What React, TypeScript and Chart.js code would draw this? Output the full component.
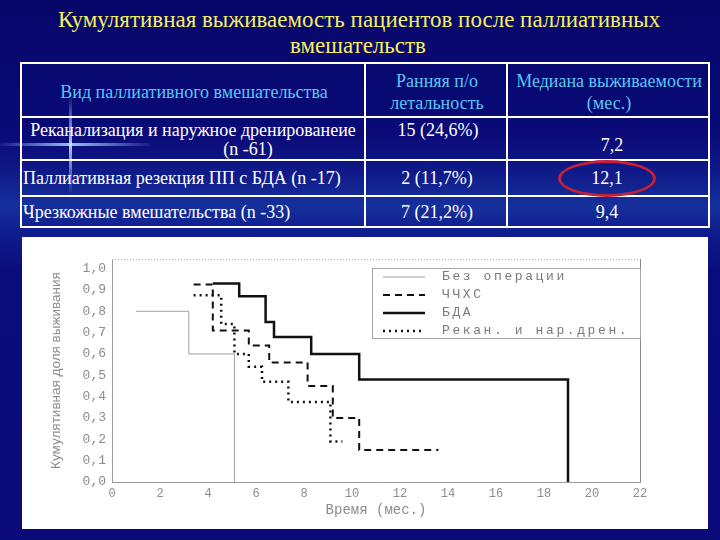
import React, { useEffect, useRef } from "react";
import { Chart, registerables } from "chart.js";

Chart.register(...registerables);

// ---------------- data ----------------
const titleLines = [
  "Кумулятивная выживаемость пациентов после паллиативных",
  "вмешательств",
];
const headerCol1 = "Вид паллиативного вмешательства";
const headerCol2 = ["Ранняя п/о", "летальность"];
const headerCol3 = ["Медиана выживаемости", "(мес.)"];
const interventionNames = [
  ["Реканализация и наружное дренированеие", "(n -61)"],
  ["Паллиативная резекция ПП с БДА (n -17)"],
  ["Чрезкожные вмешательства (n -33)"],
];
const earlyMortality = ["15 (24,6%)", "2 (11,7%)", "7 (21,2%)"];
const medianSurvival = ["7,2", "12,1", "9,4"];

const seriesLabels = ["Без операции", "ЧЧХС", "БДА", "Рекан. и нар.дрен."];
const noOpTimes = [1.0, 3.2, 5.1];
const noOpSurvival = [0.8, 0.6, 0.0];
const pthcTimes = [3.4, 4.2, 5.7, 6.55, 8.15, 9.2, 10.3, 13.6];
const pthcSurvival = [0.925, 0.71, 0.64, 0.56, 0.45, 0.3, 0.15, 0.15];
const bdaTimes = [4.2, 5.3, 6.4, 6.75, 8.3, 10.3, 19.0];
const bdaSurvival = [0.93, 0.87, 0.75, 0.68, 0.6, 0.48, 0.0];
const drainTimes = [3.4, 4.55, 5.1, 5.7, 6.25, 7.35, 9.1, 9.6];
const drainSurvival = [0.875, 0.74, 0.6, 0.54, 0.47, 0.375, 0.19, 0.19];

const xAxisTitle = "Время (мес.)";
const yAxisTitle = "Кумулятивная доля выживания";

// ---------------- helpers ----------------
const toPoints = (xs: number[], ys: number[]) => xs.map((x, i) => ({ x, y: ys[i] }));

const MONO = "'Liberation Mono', 'DejaVu Sans Mono', monospace";
const SERIF = "'Liberation Serif', 'DejaVu Serif', serif";

const framePlugin = {
  id: "frame",
  afterDatasetsDraw(chart: any) {
    const { ctx, chartArea } = chart;
    const { left, right, top, bottom } = chartArea;
    ctx.save();
    ctx.lineWidth = 1;
    ctx.strokeStyle = "#b0b0b0";
    ctx.setLineDash([1, 2]);
    ctx.beginPath();
    ctx.moveTo(left, top + 0.5);
    ctx.lineTo(right, top + 0.5);
    ctx.stroke();
    ctx.setLineDash([]);
    ctx.strokeStyle = "#8a8a8a";
    ctx.beginPath();
    ctx.moveTo(right + 0.5, top);
    ctx.lineTo(right + 0.5, bottom);
    ctx.stroke();
    ctx.restore();
  },
};

const insideLegendPlugin = {
  id: "insideLegend",
  afterDraw(chart: any) {
    const { ctx, chartArea } = chart;
    const w = 268;
    const h = 70;
    const x0 = chartArea.right - w;
    const y0 = chartArea.top + 9;
    ctx.save();
    ctx.fillStyle = "#ffffff";
    ctx.fillRect(x0, y0, w, h);
    ctx.strokeStyle = "#a8a8a8";
    ctx.lineWidth = 1;
    ctx.setLineDash([]);
    ctx.strokeRect(x0 + 0.5, y0 + 0.5, w, h);
    const rowH = 18;
    chart.data.datasets.forEach((ds: any, i: number) => {
      const cy = y0 + 9 + rowH * i;
      ctx.strokeStyle = ds.borderColor;
      ctx.lineWidth = ds.borderWidth;
      ctx.setLineDash(ds.borderDash || []);
      ctx.beginPath();
      ctx.moveTo(x0 + 11, cy);
      ctx.lineTo(x0 + 53, cy);
      ctx.stroke();
      ctx.setLineDash([]);
      ctx.fillStyle = "#7a7a7a";
      ctx.font = `13px ${MONO}`;
      try {
        (ctx as any).letterSpacing = "2.6px";
      } catch (e) {}
      ctx.textBaseline = "middle";
      ctx.textAlign = "left";
      ctx.fillText(ds.label, x0 + 70, cy);
      try {
        (ctx as any).letterSpacing = "0px";
      } catch (e) {}
    });
    ctx.restore();
  },
};

function SurvivalChart() {
  const ref = useRef<HTMLCanvasElement | null>(null);
  useEffect(() => {
    if (!ref.current) return;
    const axisColor = "#8c8c8c";
    const chart = new Chart(ref.current, {
      type: "line",
      data: {
        datasets: [
          {
            label: seriesLabels[0],
            data: toPoints(noOpTimes, noOpSurvival),
            borderColor: "#a0a0a0",
            borderWidth: 1,
            borderDash: [],
            stepped: "before",
          },
          {
            label: seriesLabels[1],
            data: toPoints(pthcTimes, pthcSurvival),
            borderColor: "#111111",
            borderWidth: 2,
            borderDash: [7, 5],
            stepped: "before",
          },
          {
            label: seriesLabels[2],
            data: toPoints(bdaTimes, bdaSurvival),
            borderColor: "#111111",
            borderWidth: 2.5,
            borderDash: [],
            stepped: "before",
          },
          {
            label: seriesLabels[3],
            data: toPoints(drainTimes, drainSurvival),
            borderColor: "#111111",
            borderWidth: 2.5,
            borderDash: [2, 4],
            stepped: "before",
          },
        ],
      },
      options: {
        animation: false,
        responsive: false,
        maintainAspectRatio: false,
        layout: { padding: { top: 22, right: 68, left: 0, bottom: 0 } },
        elements: { point: { radius: 0, hoverRadius: 0 }, line: { tension: 0, fill: false } },
        plugins: { legend: { display: false }, tooltip: { enabled: false } },
        scales: {
          x: {
            type: "linear",
            min: 0,
            max: 22,
            ticks: {
              stepSize: 2,
              color: axisColor,
              padding: 5,
              font: { family: MONO, size: 12 },
              callback: (v: any) => String(v),
            },
            grid: { display: false, drawTicks: false },
            border: { display: true, color: "#9a9a9a", width: 1 },
            title: {
              display: true,
              text: xAxisTitle,
              color: axisColor,
              font: { family: MONO, size: 14 },
              padding: { top: 0, bottom: 10 },
            },
            afterFit: (s: any) => {
              s.height = 47;
            },
          },
          y: {
            type: "linear",
            min: 0,
            max: 1.045,
            ticks: {
              stepSize: 0.1,
              includeBounds: false,
              color: axisColor,
              padding: 6,
              font: { family: MONO, size: 13 },
              callback: (v: any) => Number(v).toFixed(1).replace(".", ","),
            },
            grid: { display: false, drawTicks: false },
            border: { display: true, color: "#9a9a9a", width: 1, dash: [1, 2] },
            title: {
              display: true,
              text: yAxisTitle,
              color: axisColor,
              font: { family: "'Liberation Sans', sans-serif", size: 13.5 },
              padding: { top: 26, bottom: 0 },
            },
            afterFit: (s: any) => {
              s.width = 90;
            },
          },
        },
      },
      plugins: [framePlugin, insideLegendPlugin],
    } as any);
    return () => chart.destroy();
  }, []);
  return <canvas ref={ref} width={686} height={292} style={{ width: 686, height: 292, display: "block" }} />;
}

const abs = (left: number, top: number, extra: React.CSSProperties = {}): React.CSSProperties => ({
  position: "absolute",
  left,
  top,
  ...extra,
});

function Line({ text, cx, cy, color, size, align = "center" }: { text: string; cx: number; cy: number; color: string; size: number; align?: "center" | "left" }) {
  const style: React.CSSProperties =
    align === "center"
      ? abs(cx - 300, cy - size * 0.62, { width: 600, textAlign: "center" })
      : abs(cx, cy - size * 0.62, { whiteSpace: "nowrap" });
  return (
    <div style={{ ...style, color, fontSize: size, fontFamily: SERIF, lineHeight: `${Math.round(size * 1.2)}px`, whiteSpace: "nowrap" }}>
      {text}
    </div>
  );
}

export default function App() {
  const border = "#ffffff";
  const hLine = (y: number) => <div key={"h" + y} style={abs(21, y - 1, { width: 689, height: 2, background: border })} />;
  const vLine = (x: number) => <div key={"v" + x} style={abs(x - 1, 63, { width: 2, height: 165, background: border })} />;
  const headColor = "#5cc4f4";
  const bodyColor = "#ffffff";
  return (
    <div
      style={{
        position: "absolute",
        left: 0,
        top: 0,
        width: 720,
        height: 540,
        overflow: "hidden",
        background:
          "linear-gradient(to bottom, #07076a 0%, #0a0a78 25%, #0f1a88 32%, #16309c 38%, #0f1d8c 43%, #0a0c7c 50%, #0a0a78 100%)",
      }}
    >
      {/* lens flare */}
      <div style={abs(0, 143, { width: 150, height: 3, background: "linear-gradient(to right, rgba(90,140,255,0.1), rgba(170,210,255,0.9) 47%, rgba(90,140,255,0.1))" })} />
      <div style={abs(69, 95, { width: 3, height: 100, background: "linear-gradient(to bottom, rgba(90,140,255,0), rgba(200,225,255,0.9) 50%, rgba(90,140,255,0))" })} />

      {/* title */}
      <Line text={titleLines[0]} cx={358} cy={20} color="#f4f060" size={23} />
      <Line text={titleLines[1]} cx={358} cy={46} color="#f4f060" size={23} />

      {/* table grid */}
      <div style={abs(20, 62, { width: 690, height: 166, border: `2px solid ${border}`, boxSizing: "border-box" })} />
      {hLine(117)}
      {hLine(160)}
      {hLine(196)}
      {vLine(365)}
      {vLine(507)}

      {/* header */}
      <Line text={headerCol1} cx={194} cy={92} color={headColor} size={18} />
      <Line text={headerCol2[0]} cx={437} cy={81} color={headColor} size={18} />
      <Line text={headerCol2[1]} cx={437} cy={103} color={headColor} size={18} />
      <Line text={headerCol3[0]} cx={609} cy={81} color={headColor} size={18} />
      <Line text={headerCol3[1]} cx={609} cy={103} color={headColor} size={18} />

      {/* rows */}
      <Line text={interventionNames[0][0]} cx={193} cy={130} color={bodyColor} size={18} />
      <Line text={interventionNames[0][1]} cx={248} cy={149} color={bodyColor} size={18} />
      <Line text={interventionNames[1][0]} cx={23} cy={178} color={bodyColor} size={18} align="left" />
      <Line text={interventionNames[2][0]} cx={23} cy={212} color={bodyColor} size={18} align="left" />

      <Line text={earlyMortality[0]} cx={438} cy={130} color={bodyColor} size={18} />
      <Line text={earlyMortality[1]} cx={437} cy={178} color={bodyColor} size={18} />
      <Line text={earlyMortality[2]} cx={437} cy={212} color={bodyColor} size={18} />

      <Line text={medianSurvival[0]} cx={612} cy={145} color={bodyColor} size={18} />
      <Line text={medianSurvival[1]} cx={607} cy={178} color={bodyColor} size={18} />
      <Line text={medianSurvival[2]} cx={607} cy={212} color={bodyColor} size={18} />

      {/* red ellipse highlight */}
      <div
        style={abs(558, 160, {
          width: 98,
          height: 37,
          borderRadius: "50%",
          border: "3px solid #c42036",
          boxSizing: "border-box",
        })}
      />

      {/* chart panel */}
      <div style={abs(22, 237, { width: 686, height: 292, background: "#ffffff" })}>
        <SurvivalChart />
      </div>
    </div>
  );
}
